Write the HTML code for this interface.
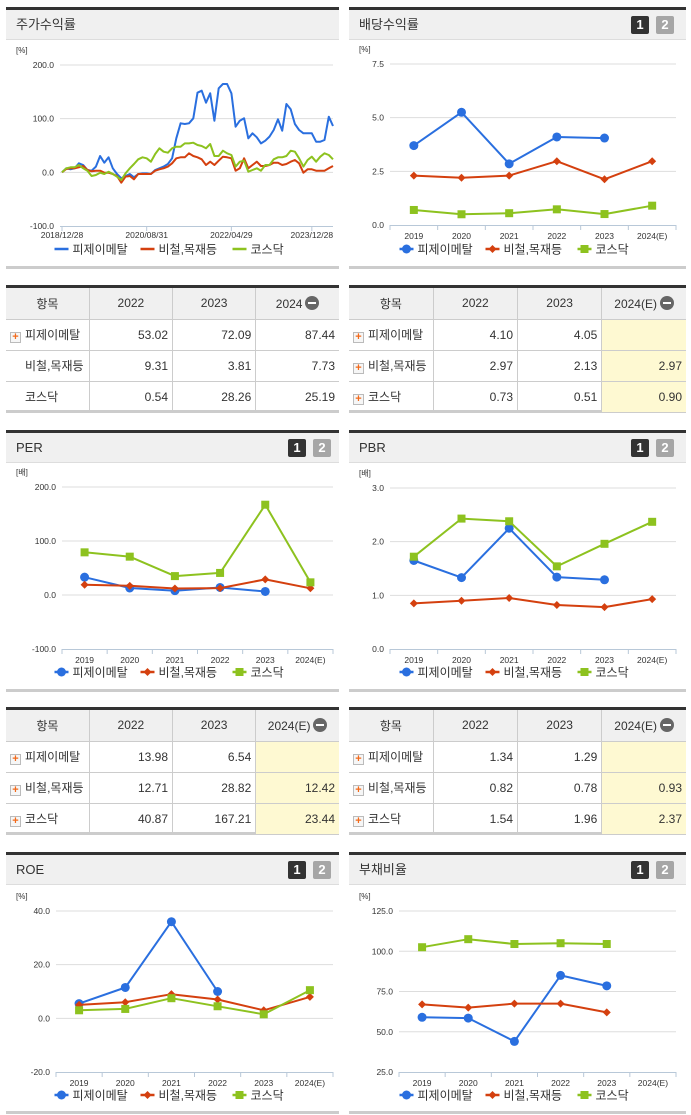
<!DOCTYPE html>
<html><head><meta charset="utf-8">
<style>
*{margin:0;padding:0;box-sizing:border-box}
body{width:691px;height:1115px;background:#fff;position:relative;overflow:hidden;font-family:"Liberation Sans","Noto Sans CJK KR",sans-serif;color:#333}
.panel{position:absolute;border-top:3px solid #333;border-bottom:3px solid #ccc}
.hdr{position:absolute;left:0;right:0;top:0;height:30px;background:#f0f0f0;border-bottom:1px solid #ddd;font-size:13px;line-height:30px;padding-left:10px;color:#333}
.btn{position:absolute;top:6px;width:18px;height:18px;border-radius:2px;color:#fff;font-size:13px;font-weight:bold;line-height:18px;text-align:center}
.b1{background:#333}.b2{background:#a6a6a6}
table{position:absolute;left:0;top:0;width:100%;border-collapse:collapse;font-size:12px;table-layout:fixed}
td,th{height:31px;border:1px solid #ccc;border-top:none;font-weight:normal}
th{background:#f0f0f0;text-align:center}
td{text-align:right;padding-right:4px}
td.nm{text-align:left;padding-left:4px}
td.hl{background:#fef9d2}
tr td:first-child,tr th:first-child{border-left:none}
tr td:last-child,tr th:last-child{border-right:none}
.plus{display:inline-block;width:11px;height:11px;border:1px solid #bbb;background:#f6f6f6;color:#f26a1b;font-size:11px;line-height:9px;text-align:center;font-weight:bold;vertical-align:-1px;margin-right:4px}
.sp{display:inline-block;width:15px}
.minus{display:inline-block;width:14px;height:14px;border-radius:7px;background:#666;vertical-align:-2px;margin-left:3px;position:relative}
.minus:after{content:"";position:absolute;left:3px;top:6px;width:8px;height:2px;background:#fff}
svg{position:absolute;left:0;top:0}
</style></head><body>

<div class="panel" style="left:6px;top:7px;width:333px;height:262px"><div class="hdr">주가수익률</div></div>
<div class="panel" style="left:349px;top:7px;width:337px;height:262px"><div class="hdr">배당수익률</div><div class="btn b1" style="left:282px">1</div><div class="btn b2" style="left:307px">2</div></div>
<div class="panel" style="left:6px;top:430px;width:333px;height:262px"><div class="hdr">PER</div><div class="btn b1" style="left:282px">1</div><div class="btn b2" style="left:307px">2</div></div>
<div class="panel" style="left:349px;top:430px;width:337px;height:262px"><div class="hdr">PBR</div><div class="btn b1" style="left:282px">1</div><div class="btn b2" style="left:307px">2</div></div>
<div class="panel" style="left:6px;top:852px;width:333px;height:262px"><div class="hdr">ROE</div><div class="btn b1" style="left:282px">1</div><div class="btn b2" style="left:307px">2</div></div>
<div class="panel" style="left:349px;top:852px;width:337px;height:262px"><div class="hdr">부채비율</div><div class="btn b1" style="left:282px">1</div><div class="btn b2" style="left:307px">2</div></div>

<div class="panel" style="left:6px;top:285px;width:333px;height:127px;border-bottom-width:2px">
<table><tr><th>항목</th><th>2022</th><th>2023</th><th>2024<span class="minus"></span></th></tr>
<tr><td class="nm"><span class="plus">+</span>피제이메탈</td><td>53.02</td><td>72.09</td><td>87.44</td></tr>
<tr><td class="nm"><span class="sp"></span>비철,목재등</td><td>9.31</td><td>3.81</td><td>7.73</td></tr>
<tr><td class="nm"><span class="sp"></span>코스닥</td><td>0.54</td><td>28.26</td><td>25.19</td></tr></table></div>

<div class="panel" style="left:349px;top:285px;width:337px;height:127px;border-bottom-width:2px">
<table><tr><th>항목</th><th>2022</th><th>2023</th><th>2024(E)<span class="minus"></span></th></tr>
<tr><td class="nm"><span class="plus">+</span>피제이메탈</td><td>4.10</td><td>4.05</td><td class="hl"></td></tr>
<tr><td class="nm"><span class="plus">+</span>비철,목재등</td><td>2.97</td><td>2.13</td><td class="hl">2.97</td></tr>
<tr><td class="nm"><span class="plus">+</span>코스닥</td><td>0.73</td><td>0.51</td><td class="hl">0.90</td></tr></table></div>

<div class="panel" style="left:6px;top:707px;width:333px;height:127px;border-bottom-width:2px">
<table><tr><th>항목</th><th>2022</th><th>2023</th><th>2024(E)<span class="minus"></span></th></tr>
<tr><td class="nm"><span class="plus">+</span>피제이메탈</td><td>13.98</td><td>6.54</td><td class="hl"></td></tr>
<tr><td class="nm"><span class="plus">+</span>비철,목재등</td><td>12.71</td><td>28.82</td><td class="hl">12.42</td></tr>
<tr><td class="nm"><span class="plus">+</span>코스닥</td><td>40.87</td><td>167.21</td><td class="hl">23.44</td></tr></table></div>

<div class="panel" style="left:349px;top:707px;width:337px;height:127px;border-bottom-width:2px">
<table><tr><th>항목</th><th>2022</th><th>2023</th><th>2024(E)<span class="minus"></span></th></tr>
<tr><td class="nm"><span class="plus">+</span>피제이메탈</td><td>1.34</td><td>1.29</td><td class="hl"></td></tr>
<tr><td class="nm"><span class="plus">+</span>비철,목재등</td><td>0.82</td><td>0.78</td><td class="hl">0.93</td></tr>
<tr><td class="nm"><span class="plus">+</span>코스닥</td><td>1.54</td><td>1.96</td><td class="hl">2.37</td></tr></table></div>

<svg id="charts" width="691" height="1115"></svg>

<script>
// ---- data ----
const stockDates = ["2018/12/28","2020/08/31","2022/04/29","2023/12/28"];
const stockDateIdx = [0,20,40,59];
const stockPJ = [0,7.5,5.6,7.5,16.8,13.7,4.3,3.1,10.6,30.4,18,28,7.5,-3.1,-11.2,-6.8,-3.1,-9.3,-3.1,-1.9,-1.9,-3.1,4.3,7.5,10.6,15.5,26.1,63.4,91.3,90,91.3,100.6,148.4,152.2,129.8,147.2,96.3,156.5,164.6,164.6,147.2,85.1,96.3,100.6,63.4,72.7,65.2,54,59,66.5,78.9,98.8,77.6,127.3,117.4,90,78.9,72.7,72.7,72.7,57.1,57.1,60.2,103.7,86.3];
const stockSector = [0,6.2,7.5,7.5,9.3,11.8,4.3,1.9,3.1,3.1,-0.6,-0.6,-3.1,-6.8,-19.3,-8.1,-6.8,-13,-3.1,-3.1,-3.1,-3.1,3.1,5.6,7.5,10.6,16.8,26.1,28,28,35.4,30.4,28,24.2,13.7,19.9,13.7,21.7,29.2,28,26.1,3.1,7.5,26.1,7.5,13.7,19.9,11.8,11.8,13.7,18,18,13.7,15.5,19.9,23,16.8,-0.6,5.6,5.6,3.1,3.1,3.1,7.5,11.8];
const stockKosdaq = [0,7.5,9.3,9.3,13.7,7.5,3.1,-6.8,-5,-0.6,-3.1,1.2,-3.1,-8.1,-14.3,-1.9,7.5,15.5,24.2,28,26.1,19.9,34.2,44.7,38.5,36.6,44.7,47.8,47.8,54,54,55.3,50.9,49.1,44.7,52.8,30.4,30.4,40.4,35.4,32.3,10.6,19.9,21.7,1.2,4.3,7.5,3.1,13.7,13.7,24.2,28,28,30.4,40.4,38.5,26.1,10.6,23,29.2,19.9,29.2,35.4,32.3,24.2];
const years = ["2019","2020","2021","2022","2023","2024(E)"];
const divPJ = [3.7,5.25,2.85,4.1,4.05,null];
const divSector = [2.3,2.2,2.3,2.97,2.13,2.97];
const divKosdaq = [0.7,0.5,0.55,0.73,0.51,0.90];
const perPJ = [33,13,8,13.98,6.54,null];
const perSector = [19,17,12,12.71,28.82,12.42];
const perKosdaq = [79,71,35,40.87,167.21,23.44];
const pbrPJ = [1.65,1.33,2.25,1.34,1.29,null];
const pbrSector = [0.85,0.9,0.95,0.82,0.78,0.93];
const pbrKosdaq = [1.72,2.43,2.38,1.54,1.96,2.37];
const roePJ = [5.5,11.5,36,10,null,null];
const roeSector = [5,6,9,7,3,8];
const roeKosdaq = [3,3.5,7.5,4.5,1.5,10.5];
const debtPJ = [59,58.5,44,85,78.5,null];
const debtSector = [67,65,67.5,67.5,62,null];
const debtKosdaq = [102.5,107.5,104.5,105,104.5,null];
const seriesNames = ["피제이메탈","비철,목재등","코스닥"];
const colors = ["#2a6fdf","#d4400f","#8dc21f"];

const NS="http://www.w3.org/2000/svg";
const svg=document.getElementById('charts');
function mk(tag,attrs,parent){const e=document.createElementNS(NS,tag);for(const k in attrs)e.setAttribute(k,attrs[k]);(parent||svg).appendChild(e);return e;}
function txt(s,attrs,parent){const e=mk('text',attrs,parent);e.textContent=s;return e;}

function marker(g,kind,x,y,c){
  let m;
  if(kind===0)m=mk('circle',{cx:x,cy:y,r:4.5,fill:c},g);
  else if(kind===1)m=mk('path',{d:`M${x} ${y-4}L${x+4} ${y}L${x} ${y+4}L${x-4} ${y}Z`,fill:c},g);
  else m=mk('rect',{x:x-4,y:y-4,width:8,height:8,fill:c},g);
  return m;
}

function chart(cfg){
  const g=mk('g',{});
  
  
  const t0=cfg.ticks[0], tn=cfg.ticks[cfg.ticks.length-1];
  const yS=v=>cfg.top+(t0-v)/(t0-tn)*(cfg.bot-cfg.top);
  txt(cfg.unit,{x:cfg.px+10,y:cfg.top-12,'font-size':8,fill:'#333'},g);
  cfg.ticks.forEach((t,i)=>{
    const y=yS(t);
    if(i<cfg.ticks.length-1){const gl=mk('line',{x1:cfg.x0,x2:cfg.x1,y1:y,y2:y,stroke:'#ddd','stroke-width':1},g);
    }
    const tl=txt(t.toFixed(1),{x:cfg.x0-6,y:y+3,'font-size':8.5,'text-anchor':'end',fill:'#333'},g);
    
  });
  const ax=mk('line',{x1:cfg.x0,x2:cfg.x1,y1:cfg.bot+0.5,y2:cfg.bot+0.5,stroke:'#b8c8d8','stroke-width':1},g);
  
  let xS;
  if(cfg.time){
    const n=cfg.series[0].length;
    xS=i=>cfg.x0+2+i*(cfg.x1-cfg.x0-2)/(n-1);
    stockDates.forEach((d,k)=>{
      const x=xS(stockDateIdx[k]);
      mk('line',{x1:x,x2:x,y1:cfg.bot,y2:cfg.bot+5,stroke:'#b8c8d8'},g);
      const l=txt(d,{x:x,y:cfg.bot+12,'font-size':8.5,'text-anchor':'middle',fill:'#333'},g);
      
    });
  } else {
    const bw=(cfg.x1-cfg.x0)/years.length;
    xS=i=>cfg.x0+bw*(i+0.5);
    for(let i=0;i<=years.length;i++){const x=cfg.x0+bw*i;mk('line',{x1:x,x2:x,y1:cfg.bot,y2:cfg.bot+5,stroke:'#b8c8d8'},g);}
    years.forEach((yr,i)=>{const l=txt(yr,{x:xS(i),y:cfg.bot+14,'font-size':8.5,'text-anchor':'middle',fill:'#333'},g);
    });
  }
  cfg.series.forEach((s,si)=>{
    let d='';let pen=false;
    s.forEach((v,i)=>{if(v===null){pen=false;return;}d+=(pen?'L':'M')+xS(i).toFixed(1)+' '+yS(v).toFixed(1);pen=true;});
    const p=mk('path',{d:d,fill:'none',stroke:colors[si],'stroke-width':2,'stroke-linejoin':'round'},g);
    
    if(!cfg.time){s.forEach((v,i)=>{if(v===null)return;const m=marker(g,si,xS(i),yS(v),colors[si]);
      });}
  });
  // legend
  const lg=mk('g',{},g);
  
  
  const offs=[0,86,178];
  const lx=cfg.px+cfg.pw/2-118;
  seriesNames.forEach((nm,si)=>{
    const x=lx+offs[si];
    const e=mk('g',{},lg);
    
    
    mk('line',{x1:x,x2:x+14,y1:cfg.leg,y2:cfg.leg,stroke:colors[si],'stroke-width':2.5},e);
    if(!cfg.time)marker(e,si,x+7,cfg.leg,colors[si]);
    txt(nm,{x:x+18,y:cfg.leg+4.5,'font-size':12,fill:'#333'},e);
  });
}

chart({name:'stock-return-chart',time:true,px:6,pw:333,x0:60,x1:333,top:65,bot:226,leg:249,unit:'[%]',ticks:[200,100,0,-100],series:[stockPJ,stockSector,stockKosdaq]});
chart({name:'dividend-chart',px:349,pw:337,x0:390,x1:676,top:64,bot:225,leg:249,unit:'[%]',ticks:[7.5,5,2.5,0],series:[divPJ,divSector,divKosdaq]});
chart({name:'per-chart',px:6,pw:333,x0:62,x1:333,top:487,bot:649,leg:672,unit:'[배]',ticks:[200,100,0,-100],series:[perPJ,perSector,perKosdaq]});
chart({name:'pbr-chart',px:349,pw:337,x0:390,x1:676,top:488,bot:649,leg:672,unit:'[배]',ticks:[3,2,1,0],series:[pbrPJ,pbrSector,pbrKosdaq]});
chart({name:'roe-chart',px:6,pw:333,x0:56,x1:333,top:911,bot:1072,leg:1095,unit:'[%]',ticks:[40,20,0,-20],series:[roePJ,roeSector,roeKosdaq]});
chart({name:'debt-ratio-chart',px:349,pw:337,x0:399,x1:676,top:911,bot:1072,leg:1095,unit:'[%]',ticks:[125,100,75,50,25],series:[debtPJ,debtSector,debtKosdaq]});
</script>
</body></html>
